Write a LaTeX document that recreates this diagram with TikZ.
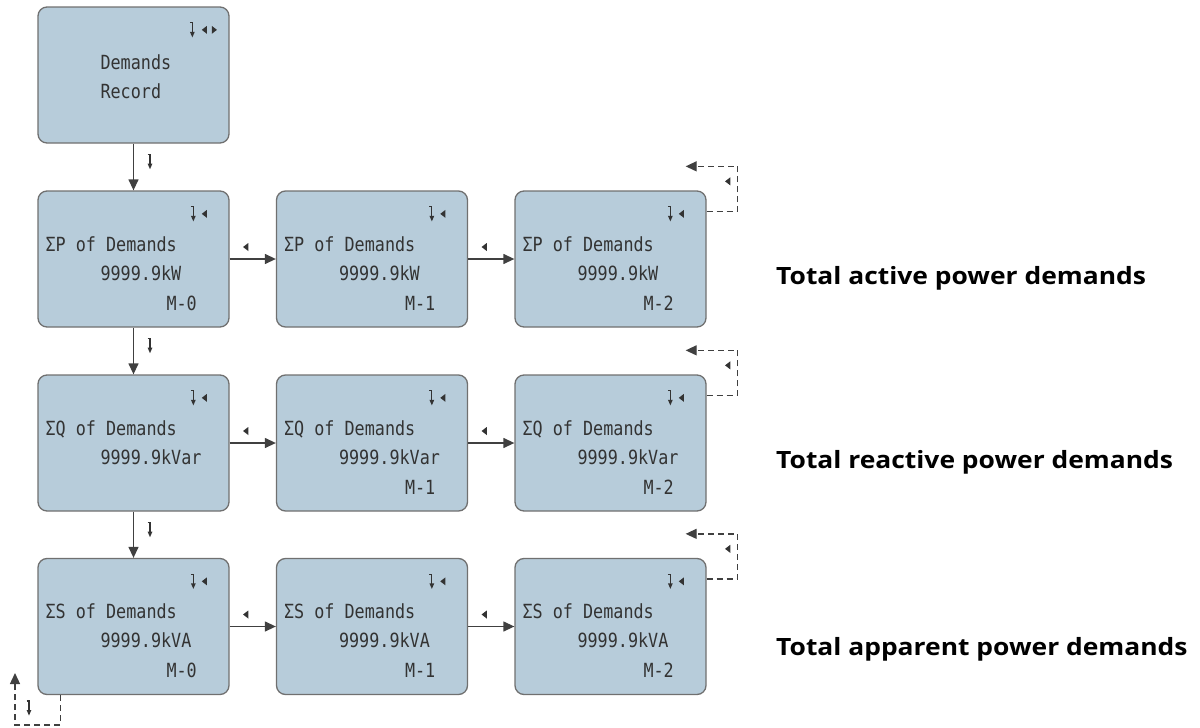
\documentclass[tikz,border=0pt]{standalone}
\usepackage{fontspec}
\setmainfont{Liberation Sans}
\newfontfamily\lcdfont[FakeStretch=0.86]{DejaVu Sans Mono}
\newfontfamily\sidefont[FakeStretch=1.11]{Open Sans}
\usetikzlibrary{arrows.meta,calc}
\definecolor{boxfill}{HTML}{B7CCDA}
\definecolor{boxline}{HTML}{707070}
\definecolor{ink}{HTML}{333333}
\definecolor{wirecol}{HTML}{404040}
\begin{document}
\begin{tikzpicture}[x=1pt,y=-1pt,
  screen/.style={draw=boxline, fill=boxfill, line width=1.3pt, rounded corners=9pt,
    minimum width=191pt, minimum height=136pt, inner sep=0pt},
  lcd/.style={font=\lcdfont\fontsize{19.5}{20}\selectfont, text=ink, inner sep=0pt, anchor=base west},
  wire/.style={draw=wirecol, line width=1.3pt, -{Triangle[length=11pt,width=10pt]}},
  dashloop/.style={wire, dash pattern=on 6pt off 4pt},
  sidelabel/.style={font=\sidefont\bfseries\fontsize{23.8}{24}\selectfont, anchor=base west, inner sep=0pt},
  dn/.pic={\draw[ink, line width=1.1pt] (-2.5,-7)--(0,-7)--(0,3); \fill[ink] (-2.4,2)--(2.4,2)--(0,7.5)--cycle;},
  lt/.pic={\fill[ink] (2.6,-4)--(2.6,4)--(-2.6,0)--cycle;},
  rt/.pic={\fill[ink] (-2.6,-4)--(-2.6,4)--(2.6,0)--cycle;}
]
\useasboundingbox (0,0) rectangle (1200,728);

% boxes
\node[screen] (rec) at (133.5,75) {};
\node[screen] (p0) at (133.5,259) {};
\node[screen] (p1) at (372,259) {};
\node[screen] (p2) at (610.5,259) {};
\node[screen] (q0) at (133.5,443) {};
\node[screen] (q1) at (372,443) {};
\node[screen] (q2) at (610.5,443) {};
\node[screen] (s0) at (133.5,626.5) {};
\node[screen] (s1) at (372,626.5) {};
\node[screen] (s2) at (610.5,626.5) {};

% record box contents
\node[lcd] (rect1) at ($(rec.north west)+(63,63)$) {Demands};
\node[lcd] (rect2) at ($(rec.north west)+(63,92)$) {Record};
\pic at ($(rec.north west)+(155,23.5)$) {dn};
\pic at ($(rec.north west)+(167,23.5)$) {lt};
\pic at ($(rec.north west)+(177,23.5)$) {rt};

% contents of screens
\foreach \b/\q/\v/\m in {p0/P/9999.9kW/M-0, p1/P/9999.9kW/M-1, p2/P/9999.9kW/M-2,
                         q0/Q/9999.9kVar/, q1/Q/9999.9kVar/M-1, q2/Q/9999.9kVar/M-2,
                         s0/S/9999.9kVA/M-0, s1/S/9999.9kVA/M-1, s2/S/9999.9kVA/M-2}{
  \node[lcd] (\b t1) at ($(\b.north west)+(8,61)$) {Σ\q\ of Demands};
  \node[lcd] (\b t2) at ($(\b.north west)+(63,90)$) {\v};
  \node[lcd] (\b t3) at ($(\b.north west)+(129,120)$) {\m};
  \pic at ($(\b.north west)+(156,23.5)$) {dn};
  \pic at ($(\b.north west)+(167,23.5)$) {lt};
}

% vertical connectors
\draw[wire] (rec.south) -- (p0.north);
\draw[wire] (p0.south) -- (q0.north);
\draw[wire] (q0.south) -- (s0.north);
\foreach \a in {rec,p0,q0}{
  \pic at ($(\a.south)+(16.5,18)$) {dn};
}

% horizontal connectors
\foreach \a/\b in {p0/p1,p1/p2,q0/q1,q1/q2,s0/s1,s1/s2}{
  \draw[wire] (\a.east) -- (\b.west);
  \pic at ($(\a.east)+(16,-12)$) {lt};
}

% dashed loops on the right
\foreach \a in {p2,q2,s2}{
  \coordinate (\a end) at ($(\a.north east)+(-21,-24)$);
  \draw[dashloop] ($(\a.north east)+(0,21)$) -| ($(\a.north east)+(31,-24)$) -- (\a end);
  \pic at ($(\a.north east)+(21,-9)$) {lt};
}

% dashed loop at the bottom
\coordinate (s0end) at (15,673);
\draw[dashloop] ($(s0.south west)+(23,0)$) |- (15,725) -- (s0end);
\pic at (29,708) {dn};

% side labels
\node[sidelabel] (lab1) at (776,284) {Total active power demands};
\node[sidelabel] (lab2) at (776,468) {Total reactive power demands};
\node[sidelabel] (lab3) at (776,655) {Total apparent power demands};
\end{tikzpicture}
\end{document}
